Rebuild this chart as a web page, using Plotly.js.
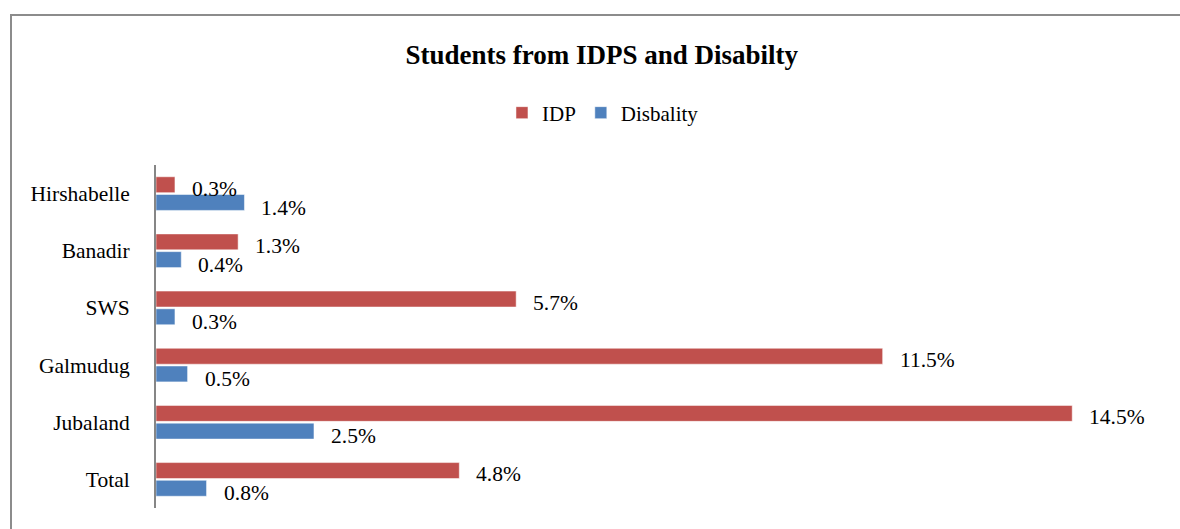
<!DOCTYPE html>
<html>
<head>
<meta charset="utf-8">
<script src="https://cdn.plot.ly/plotly-3.0.1.min.js"></script>
<style>
  html, body { margin: 0; padding: 0; background: #ffffff; }
  #frame { position: absolute; left: 10px; top: 14px; width: 1300px; height: 700px;
           border-left: 2px solid #8c8c8c; border-top: 2px solid #8c8c8c; }
  #chart { position: absolute; left: 0; top: 0; width: 1180px; height: 529px; }
</style>
</head>
<body>
<div id="frame"></div>
<div id="chart"></div>
<script>
// Data
var categories = ["Hirshabelle", "Banadir", "SWS", "Galmudug", "Jubaland", "Total"];
var idpValues = [0.3, 1.3, 5.7, 11.5, 14.5, 4.8];
var disabilityValues = [1.4, 0.4, 0.3, 0.5, 2.5, 0.8];
var seriesNames = ["IDP", "Disbality"];
var chartTitle = "Students from IDPS and Disabilty";

var FONT = "Liberation Serif, Times New Roman, serif";
var colors = ["#C0504D", "#4F81BD"];
var seriesValues = [idpValues, disabilityValues];

var traces = seriesValues.map(function (vals, i) {
  return {
    type: "bar",
    orientation: "h",
    name: seriesNames[i],
    y: categories,
    x: vals,
    marker: { color: colors[i], line: { width: 1, color: "rgba(255,255,255,0.5)" } },
    hoverinfo: "skip"
  };
});

var yShifts = [5, -14];
var annotations = [];
seriesValues.forEach(function (vals, i) {
  vals.forEach(function (v, j) {
    annotations.push({
      x: v, y: categories[j], xref: "x", yref: "y",
      text: v.toFixed(1) + "%",
      showarrow: false,
      xanchor: "left", yanchor: "middle",
      xshift: 15, yshift: yShifts[i],
      font: { family: FONT, size: 21.5, color: "#000000" }
    });
  });
});

var layout = {
  width: 1180, height: 529,
  paper_bgcolor: "rgba(0,0,0,0)",
  plot_bgcolor: "rgba(0,0,0,0)",
  margin: { l: 156, r: 13, t: 165, b: 21 },
  barmode: "group",
  bargap: 0.38,
  bargroupgap: 0.1,
  showlegend: true,
  title: {
    text: "<b>" + chartTitle + "</b>",
    font: { family: FONT, size: 27, color: "#000000" },
    x: 0.51, xref: "container", xanchor: "center",
    y: 1 - 55 / 529, yref: "container", yanchor: "middle"
  },
  legend: {
    orientation: "h",
    x: 0.511, xref: "container", xanchor: "center",
    y: 1 - 113 / 529, yref: "container", yanchor: "middle",
    font: { family: FONT, size: 21, color: "#000000" },
    itemwidth: 30,
    traceorder: "normal"
  },
  xaxis: {
    range: [0, 16],
    visible: false,
    showgrid: false,
    zeroline: false,
    fixedrange: true
  },
  yaxis: {
    type: "category",
    autorange: "reversed",
    showline: true,
    linecolor: "#868686",
    linewidth: 2,
    ticks: "outside",
    ticklen: 20,
    tickcolor: "rgba(0,0,0,0)",
    showgrid: false,
    zeroline: false,
    tickfont: { family: FONT, size: 21.5, color: "#000000" },
    fixedrange: true
  },
  annotations: annotations
};

Plotly.newPlot("chart", traces, layout, { displayModeBar: false, staticPlot: true });
</script>
</body>
</html>
